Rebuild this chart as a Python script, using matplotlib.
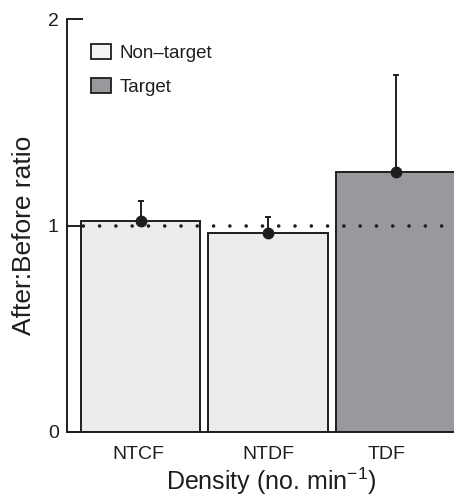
import matplotlib
matplotlib.use("Agg")
import matplotlib.pyplot as plt
from matplotlib.patches import Patch

plt.rcParams["font.family"] = ["Liberation Sans", "DejaVu Sans"]
plt.rcParams["mathtext.fontset"] = "custom"
plt.rcParams["mathtext.rm"] = "Liberation Sans"
plt.rcParams["mathtext.it"] = "Liberation Sans:italic"
plt.rcParams["mathtext.bf"] = "Liberation Sans:bold"

# data
groups = ["NTCF", "NTDF", "TDF"]
ratio = [1.022, 0.962, 1.26]
err_up = [0.096, 0.079, 0.469]
is_target = [False, False, True]
legend_labels = ["Non\u2013target", "Target"]

light = "#ececee"
dark = "#99989c"
ink = "#1e1e1e"

fig = plt.figure(figsize=(4.54, 4.97), dpi=100)
ax = fig.add_axes([67 / 454, 65 / 497, 387 / 454, 413 / 497])

xpos = list(range(len(groups)))
colors = [dark if t else light for t in is_target]
ax.bar(xpos, ratio, width=0.937, color=colors, edgecolor=ink, linewidth=1.4, zorder=2)

# reference line at ratio = 1
ax.axhline(1, color=ink, linewidth=2.6, linestyle=(0, (0.01, 4.5)),
           dash_capstyle="round", zorder=3)

ax.errorbar(xpos, ratio, yerr=[[0] * len(ratio), err_up], fmt="o", color=ink,
            markersize=7.5, elinewidth=1.4, capsize=2.5, capthick=1.4, zorder=4)

ax.set_xlim(-0.576, 2.456)
ax.set_ylim(0, 2)
ax.set_yticks([0, 1, 2])
ax.set_xticks([-0.02, 1.0, 1.93])
ax.set_xticklabels(groups)

for s in ["top", "right"]:
    ax.spines[s].set_visible(False)
for s in ["left", "bottom"]:
    ax.spines[s].set_linewidth(1.4)
    ax.spines[s].set_color(ink)

ax.tick_params(axis="y", direction="in", length=11.5, width=1.4, color=ink,
               labelsize=14, pad=6, labelcolor=ink)
ax.tick_params(axis="x", length=0, labelsize=14, pad=10, labelcolor=ink)

ax.set_xlabel("Density (no. min$^{\u2212\\mathrm{1}}$)", fontsize=18, color=ink, labelpad=2)
ax.xaxis.label.set_x(0.528)
ax.set_ylabel("After:Before ratio", fontsize=19, color=ink)
ax.yaxis.set_label_coords(-0.08, 0.476)

handles = [Patch(facecolor="#f4f4f4", edgecolor=ink, linewidth=1.3),
           Patch(facecolor=dark, edgecolor=ink, linewidth=1.3)]
ax.legend(handles, legend_labels, loc="upper left", bbox_to_anchor=(0.062, 0.94),
          frameon=False, fontsize=13.5, handlelength=1.07, handleheight=0.85,
          handletextpad=0.45, labelspacing=0.86, borderpad=0, borderaxespad=0,
          labelcolor=ink)

fig.savefig("out.png", dpi=100)
